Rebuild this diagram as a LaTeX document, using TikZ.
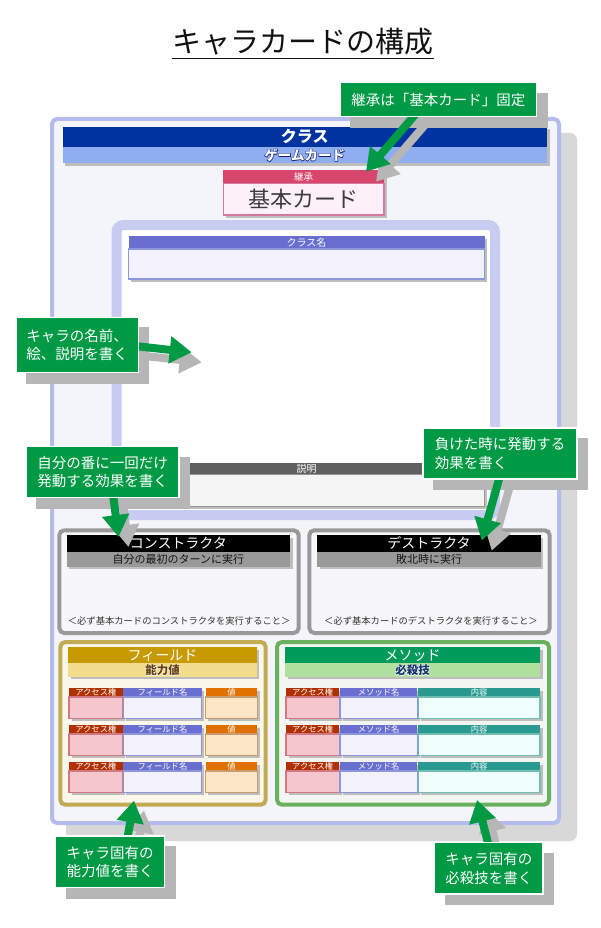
\documentclass[tikz,border=0pt]{standalone}
\usepackage{fontspec}
\setmainfont{Noto Sans CJK JP}
\newfontfamily\halofont[FakeBold=7]{Noto Sans CJK JP}
\usetikzlibrary{arrows.meta,shadows}
\pgfdeclarelayer{top}
\pgfsetlayers{main,top}
\newcommand\myfs[1]{\fontsize{#1}{#1}\selectfont}
\newcommand\halotext[3]{\makebox[0pt][l]{\color{#1}\halofont #3}{\color{#2}#3}}
\definecolor{titleblack}{RGB}{17,17,17}
\definecolor{cgreen}{RGB}{0,153,68}
\definecolor{shadowgray}{RGB}{182,182,182}
\definecolor{outershadow}{RGB}{216,216,216}
\definecolor{barshadow}{RGB}{190,190,190}
\definecolor{outerborder}{RGB}{180,188,236}
\definecolor{outerfill}{RGB}{244,244,251}
\definecolor{clsblue}{RGB}{0,51,160}
\definecolor{clslight}{RGB}{143,174,242}
\definecolor{halonavy}{RGB}{20,30,110}
\definecolor{pinkhead}{RGB}{216,70,110}
\definecolor{pinkfill}{RGB}{253,240,248}
\definecolor{pinkborder}{RGB}{214,120,160}
\definecolor{darktext}{RGB}{60,60,60}
\definecolor{band}{RGB}{200,204,240}
\definecolor{purplehead}{RGB}{105,111,206}
\definecolor{purplefill}{RGB}{242,241,252}
\definecolor{purpleborder}{RGB}{140,150,220}
\definecolor{descgray}{RGB}{96,96,96}
\definecolor{descfill}{RGB}{245,245,245}
\definecolor{descborder}{RGB}{150,150,150}
\definecolor{ctorborder}{RGB}{153,153,153}
\definecolor{ctorfill}{RGB}{247,247,250}
\definecolor{ctorgray}{RGB}{153,153,153}
\definecolor{ctortext}{RGB}{20,20,20}
\definecolor{notetext}{RGB}{51,51,51}
\definecolor{fieldborder}{RGB}{192,170,82}
\definecolor{fieldfill}{RGB}{251,247,235}
\definecolor{fieldhead}{RGB}{199,154,0}
\definecolor{fieldsub}{RGB}{243,220,140}
\definecolor{fieldtext}{RGB}{100,60,10}
\definecolor{accesshead}{RGB}{176,48,0}
\definecolor{accessfill}{RGB}{245,198,203}
\definecolor{accessborder}{RGB}{210,120,130}
\definecolor{valuehead}{RGB}{224,112,0}
\definecolor{valuefill}{RGB}{253,230,198}
\definecolor{valueborder}{RGB}{200,156,112}
\definecolor{methodborder}{RGB}{106,176,95}
\definecolor{methodfill}{RGB}{243,245,243}
\definecolor{methodhead}{RGB}{0,154,90}
\definecolor{methodsub}{RGB}{176,224,158}
\definecolor{methodtext}{RGB}{20,50,110}
\definecolor{contenthead}{RGB}{42,154,144}
\definecolor{contentfill}{RGB}{240,255,251}
\definecolor{contentborder}{RGB}{111,192,176}
\tikzset{
  bar/.style={anchor=north west, inner sep=0pt, outer sep=0pt, text=white},
  cell/.style={anchor=north west, inner sep=0pt, outer sep=0pt, line width=1.2pt},
  sshadow/.style={drop shadow={shadow xshift=2.5pt, shadow yshift=-2.5pt, fill=barshadow, opacity=1}},
  callout/.style={fill=cgreen, draw=white, line width=1.2pt, text=white,
    font=\fontsize{14.5}{18.3}\selectfont, align=left, inner sep=0pt},
  fat/.style={draw=cgreen, line width=8pt, -{Triangle[length=22pt,width=26pt]}},
  fatshadow/.style={draw=shadowgray, line width=8pt, -{Triangle[length=22pt,width=26pt]},
    transform canvas={xshift=10pt,yshift=-10pt}},
  boxshadow/.style={fill=shadowgray},
  underline/.style={draw=titleblack, line width=1.3pt},
  frameshape/.style={line width=4pt, rounded corners=5pt}
}
\begin{document}
\begin{tikzpicture}[x=1pt,y=-1pt]
\useasboundingbox (0,0) rectangle (600,928);
\fill[white] (0,0) rectangle (600,928);

% title
\node[inner sep=0pt, font=\myfs{29}, text=titleblack] (title) at (303,41.5) {キャラカードの構成};
\draw[underline] ([yshift=-3.5pt]title.south west) -- ([yshift=-3.5pt]title.south east);

% outer frame
\fill[outershadow, rounded corners=7pt] (66,133) rectangle (577,841);
\draw[frameshape, draw=outerborder, fill=outerfill] (52,119) rectangle (559,823);

% class bars
\node[bar, fill=clsblue, minimum width=484.5pt, minimum height=20pt, font=\myfs{16}\bfseries, sshadow] (clsbar) at (62.5,126.7) {クラス};
\node[bar, fill=clslight, minimum width=484.5pt, minimum height=16.8pt, font=\myfs{13.5}\bfseries, sshadow] (gamebar) at (62.5,146.7) {\halotext{halonavy}{white}{ゲームカード}};

% base card
\node[bar, fill=pinkhead, minimum width=160.6pt, minimum height=13.3pt, font=\myfs{9.5}, sshadow] (pinkhd) at (223.4,170) {継承};
\node[cell, fill=pinkfill, draw=pinkborder, minimum width=160.6pt, minimum height=31.7pt, font=\myfs{22}, text=darktext, sshadow] (pinkbd) at (223.4,183.3) {基本カード};

% inner frame
\draw[line width=10pt, draw=band, fill=white, rounded corners=7pt] (116.5,225) rectangle (495,515);
\node[bar, fill=purplehead, minimum width=356pt, minimum height=13pt, font=\myfs{10}, sshadow] (cnhd) at (128.5,236) {クラス名};
\node[cell, fill=purplefill, draw=purpleborder, minimum width=356pt, minimum height=30pt, sshadow] (cnbd) at (128.5,249) {};
\node[bar, fill=descgray, minimum width=356pt, minimum height=12pt, font=\myfs{10}, sshadow] (dshd) at (128.5,462.5) {説明};
\node[cell, fill=descfill, draw=descborder, minimum width=356pt, minimum height=32pt, sshadow] (dsbd) at (128.5,474.5) {};

% constructor
\draw[frameshape, draw=ctorborder, fill=ctorfill] (59.3,530.3) rectangle (298.7,633);
\node[bar, fill=black, minimum width=223.3pt, minimum height=16.7pt, font=\myfs{14}, sshadow] (cohd) at (66.7,535) {コンストラクタ};
\node[bar, fill=ctorgray, minimum width=223.3pt, minimum height=15pt, font=\myfs{11}, text=ctortext, sshadow] (cosub) at (66.7,551.7) {自分の最初のターンに実行};
\node[inner sep=0pt, font=\myfs{9.3}, text=notetext] (conote) at (179.2,621) {＜必ず基本カードのコンストラクタを実行すること＞};

% destructor
\draw[frameshape, draw=ctorborder, fill=ctorfill] (309.3,530.3) rectangle (549.7,633);
\node[bar, fill=black, minimum width=223.4pt, minimum height=16.7pt, font=\myfs{14}, sshadow] (dehd) at (317.3,535) {デストラクタ};
\node[bar, fill=ctorgray, minimum width=223.4pt, minimum height=15pt, font=\myfs{11}, text=ctortext, sshadow] (desub) at (317.3,551.7) {敗北時に実行};
\node[inner sep=0pt, font=\myfs{9.3}, text=notetext] (denote) at (431,621) {＜必ず基本カードのデストラクタを実行すること＞};

% field
\draw[frameshape, draw=fieldborder, fill=fieldfill] (60.3,642) rectangle (265.7,804.7);
\node[bar, fill=fieldhead, minimum width=188.4pt, minimum height=16pt, font=\myfs{14}, sshadow] (fihd) at (68.3,647.3) {フィールド};
\node[bar, fill=fieldsub, minimum width=188.4pt, minimum height=13.4pt, font=\myfs{11.5}\bfseries, sshadow] (fisub) at (68.3,663.3) {\halotext{white}{fieldtext}{能力値}};
\foreach \t/\i in {688/1,725/2,762/3}{
  \pgfmathsetmacro\b{\t+9}
  \node[bar, fill=accesshead, minimum width=53.7pt, minimum height=9pt, font=\myfs{8.3}, sshadow] (fah\i) at (69,\t) {アクセス権};
  \node[bar, fill=purplehead, minimum width=78.4pt, minimum height=9pt, font=\myfs{8.3}, sshadow] (fnh\i) at (123.3,\t) {フィールド名};
  \node[bar, fill=valuehead, minimum width=51.6pt, minimum height=9pt, font=\myfs{8.3}, sshadow] (fvh\i) at (205.7,\t) {値};
  \node[cell, fill=accessfill, draw=accessborder, minimum width=53.7pt, minimum height=21.5pt, sshadow] (fab\i) at (69,\b) {};
  \node[cell, fill=purplefill, draw=purpleborder, minimum width=78.4pt, minimum height=21.5pt, sshadow] (fnb\i) at (123.3,\b) {};
  \node[cell, fill=valuefill, draw=valueborder, minimum width=51.6pt, minimum height=21.5pt, sshadow] (fvb\i) at (205.7,\b) {};
}

% method
\draw[frameshape, draw=methodborder, fill=methodfill] (277,642) rectangle (549,804.7);
\node[bar, fill=methodhead, minimum width=255pt, minimum height=16pt, font=\myfs{14}, sshadow] (mehd) at (285,647.3) {メソッド};
\node[bar, fill=methodsub, minimum width=255pt, minimum height=13.4pt, font=\myfs{11.5}\bfseries, sshadow] (mesub) at (285,663.3) {\halotext{white}{methodtext}{必殺技}};
\foreach \t/\i in {688/1,725/2,762/3}{
  \pgfmathsetmacro\b{\t+9}
  \node[bar, fill=accesshead, minimum width=53.3pt, minimum height=9pt, font=\myfs{8.3}, sshadow] (mah\i) at (286,\t) {アクセス権};
  \node[bar, fill=purplehead, minimum width=77.3pt, minimum height=9pt, font=\myfs{8.3}, sshadow] (mnh\i) at (340,\t) {メソッド名};
  \node[bar, fill=contenthead, minimum width=121.7pt, minimum height=9pt, font=\myfs{8.3}, sshadow] (mch\i) at (418.3,\t) {内容};
  \node[cell, fill=accessfill, draw=accessborder, minimum width=53.3pt, minimum height=21.5pt, sshadow] (mab\i) at (286,\b) {};
  \node[cell, fill=purplefill, draw=purpleborder, minimum width=77.3pt, minimum height=21.5pt, sshadow] (mnb\i) at (340,\b) {};
  \node[cell, fill=contentfill, draw=contentborder, minimum width=121.7pt, minimum height=21.5pt, sshadow] (mcb\i) at (418.3,\b) {};
}

% callouts (top layer)
\begin{pgfonlayer}{top}
\node[callout, minimum width=196.7pt, minimum height=34pt] (ct) at (438.3,99.7) {継承は「基本カード」固定};
\node[callout, minimum width=122.3pt, minimum height=55.4pt] (c1) at (77.2,345) {キャラの名前、\\絵、説明を書く};
\node[callout, minimum width=153pt, minimum height=51pt] (c2) at (102.5,472.2) {自分の番に一回だけ\\発動する効果を書く};
\node[callout, minimum width=154pt, minimum height=51pt] (c3) at (500,453.5) {負けた時に発動する\\効果を書く};
\node[callout, minimum width=108.8pt, minimum height=51.7pt] (c4) at (110.2,861.9) {キャラ固有の\\能力値を書く};
\node[callout, minimum width=108.4pt, minimum height=51.3pt] (c5) at (488.8,868.4) {キャラ固有の\\必殺技を書く};
\end{pgfonlayer}

% arrow tips
\coordinate (t0) at (366,171.7);
\coordinate (t1) at (191.7,352.3);
\coordinate (t2) at (118.5,537);
\coordinate (t3) at (481.7,540.7);
\coordinate (t4) at (134,800.5);
\coordinate (t5) at (477,800);

% callout shadows
\foreach \n in {ct,c1,c2,c3,c4,c5}{
  \fill[boxshadow] ([xshift=10.5pt,yshift=-10.5pt]\n.north west) rectangle ([xshift=10.5pt,yshift=-10.5pt]\n.south east);
}
% arrow shadows
\draw[fatshadow] ([xshift=-22pt,yshift=4pt]ct.south) -- (t0);
\draw[fatshadow] ([xshift=-4pt,yshift=-1pt]c1.east) -- (t1);
\draw[fatshadow] ([xshift=10.5pt,yshift=4pt]c2.south) -- (t2);
\draw[fatshadow] ([yshift=4pt]c3.south) -- (t3);
\draw[fatshadow] ([xshift=17pt,yshift=-4pt]c4.north) -- (t4);
\draw[fatshadow] ([yshift=-4pt]c5.north) -- (t5);
% arrows
\draw[fat] ([xshift=-22pt,yshift=4pt]ct.south) -- (t0);
\draw[fat] ([xshift=-4pt,yshift=-1pt]c1.east) -- (t1);
\draw[fat] ([xshift=10.5pt,yshift=4pt]c2.south) -- (t2);
\draw[fat] ([yshift=4pt]c3.south) -- (t3);
\draw[fat] ([xshift=17pt,yshift=-4pt]c4.north) -- (t4);
\draw[fat] ([yshift=-4pt]c5.north) -- (t5);
\end{tikzpicture}
\end{document}
